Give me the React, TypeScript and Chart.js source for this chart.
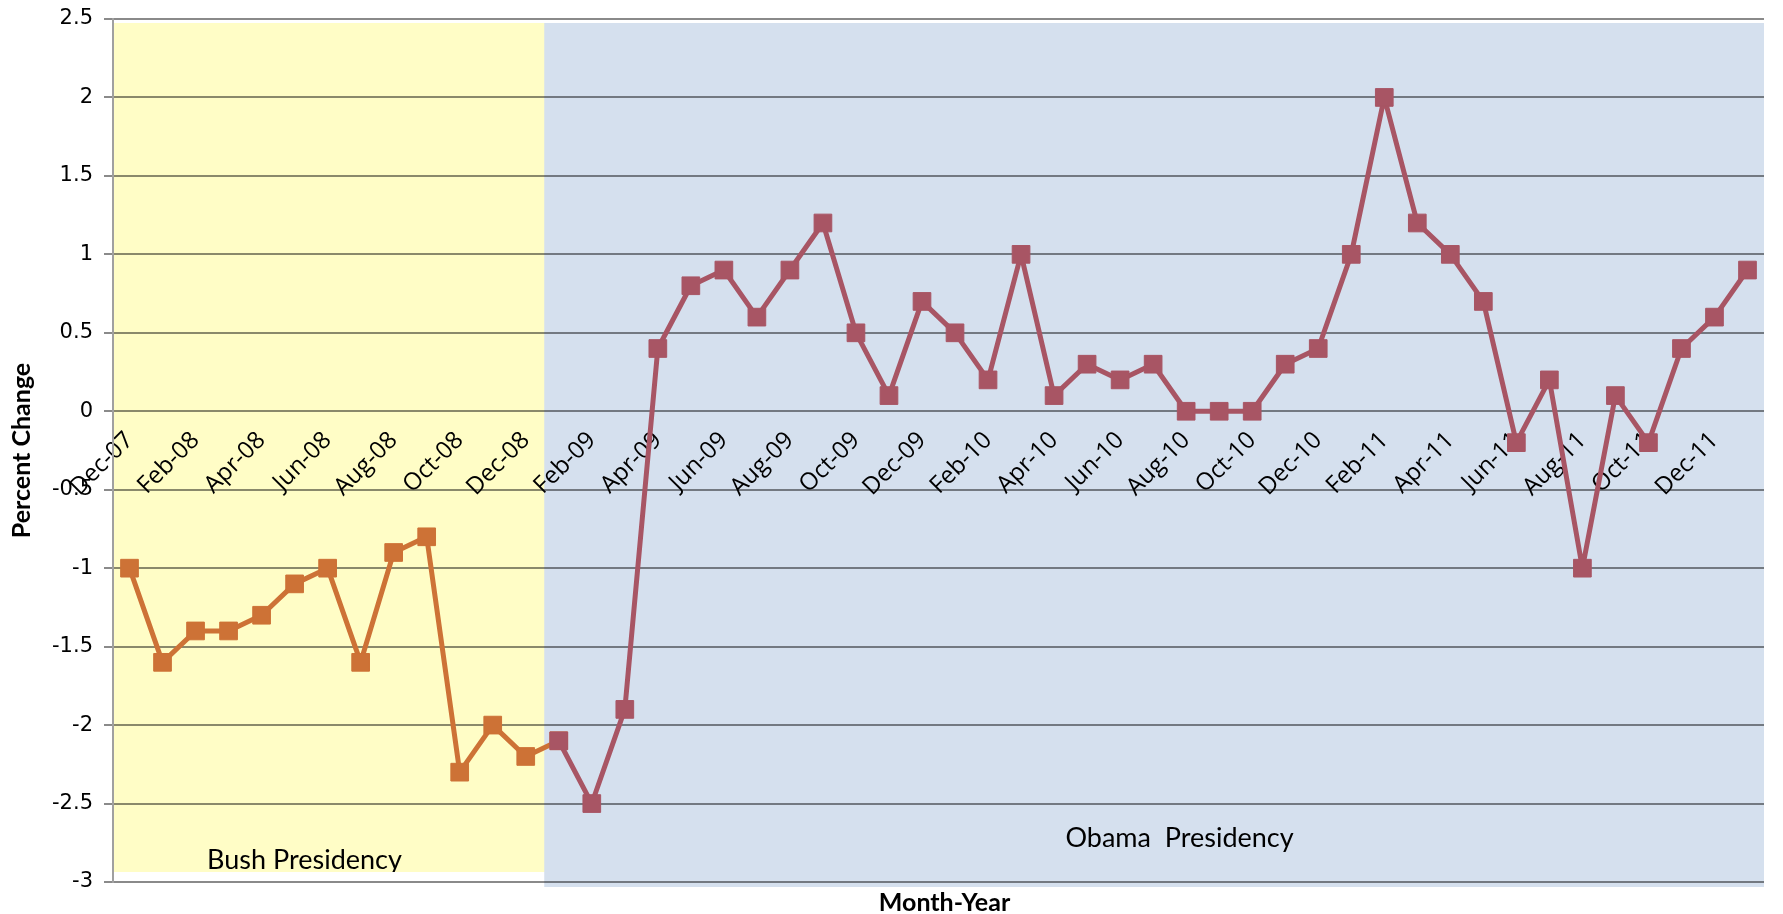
import { useEffect, useRef } from 'react';
import { Chart, registerables } from 'chart.js';

Chart.register(...registerables);

const months = [
  'Dec-07',
  'Jan-08', 'Feb-08', 'Mar-08', 'Apr-08', 'May-08', 'Jun-08', 'Jul-08', 'Aug-08', 'Sep-08', 'Oct-08', 'Nov-08', 'Dec-08',
  'Jan-09', 'Feb-09', 'Mar-09', 'Apr-09', 'May-09', 'Jun-09', 'Jul-09', 'Aug-09', 'Sep-09', 'Oct-09', 'Nov-09', 'Dec-09',
  'Jan-10', 'Feb-10', 'Mar-10', 'Apr-10', 'May-10', 'Jun-10', 'Jul-10', 'Aug-10', 'Sep-10', 'Oct-10', 'Nov-10', 'Dec-10',
  'Jan-11', 'Feb-11', 'Mar-11', 'Apr-11', 'May-11', 'Jun-11', 'Jul-11', 'Aug-11', 'Sep-11', 'Oct-11', 'Nov-11', 'Dec-11',
  'Jan-12',
];

// Dec-07 .. Dec-08
const bushValues = [-1.0, -1.6, -1.4, -1.4, -1.3, -1.1, -1.0, -1.6, -0.9, -0.8, -2.3, -2.0, -2.2];

// Jan-09 .. Jan-12
const obamaValues = [
  -2.1, -2.5, -1.9, 0.4, 0.8, 0.9, 0.6, 0.9, 1.2, 0.5, 0.1, 0.7,
  0.5, 0.2, 1.0, 0.1, 0.3, 0.2, 0.3, 0.0, 0.0, 0.0, 0.3, 0.4,
  1.0, 2.0, 1.2, 1.0, 0.7, -0.2, 0.2, -1.0, 0.1, -0.2, 0.4, 0.6,
  0.9,
];

const yMin = -3;
const yMax = 2.5;
const yStep = 0.5;

const bushColor = '#CD7236';
const obamaColor = '#A85564';

const bushLabel = { text: 'Bush Presidency', at: 5.3, value: -2.92 };
const obamaLabel = { text: 'Obama  Presidency', at: 31.8, value: -2.78 };

const presidencyPlugin = {
  id: 'presidency',
  beforeDatasetsDraw(chart: any) {
    const { ctx, chartArea, scales } = chart;
    const x = scales.x;
    const y = scales.y;
    // shapes end half way between Dec-08 and Jan-09
    const split = x.getPixelForValue(bushValues.length - 0.44);
    const top = y.getPixelForValue(yMax) + 4;
    const yellowBottom = chartArea.bottom - 10;
    const blueBottom = chartArea.bottom + 5;

    ctx.save();
    ctx.globalCompositeOperation = 'multiply';
    ctx.fillStyle = '#FFFDC6';
    ctx.fillRect(chartArea.left + 1, top, split - chartArea.left - 1, yellowBottom - top);
    ctx.fillStyle = '#D5E0EE';
    ctx.fillRect(split, top, chartArea.right - split, blueBottom - top);
    ctx.restore();

    ctx.save();
    ctx.font = '27px Lato';
    ctx.fillStyle = '#000';
    ctx.textAlign = 'center';
    ctx.textBaseline = 'alphabetic';
    ctx.save();
    ctx.beginPath();
    ctx.rect(chartArea.left + 1, top, split - chartArea.left - 1, yellowBottom - top);
    ctx.clip();
    ctx.fillText(bushLabel.text, x.getPixelForValue(bushLabel.at), y.getPixelForValue(bushLabel.value));
    ctx.restore();
    ctx.fillText(obamaLabel.text, x.getPixelForValue(obamaLabel.at), y.getPixelForValue(obamaLabel.value));
    ctx.restore();
  },
  afterDraw(chart: any) {
    const { ctx, chartArea } = chart;
    ctx.save();
    ctx.font = 'bold 25px Lato';
    ctx.fillStyle = '#000';
    ctx.textAlign = 'center';
    ctx.textBaseline = 'middle';
    ctx.fillText('Month-Year', (chartArea.left + chartArea.right) / 2 + 6, chartArea.bottom + 21);
    ctx.restore();
  },
};

export default function App() {
  const canvasRef = useRef<HTMLCanvasElement>(null);
  const chartRef = useRef<Chart | null>(null);

  useEffect(() => {
    if (!canvasRef.current) return;
    if (chartRef.current) chartRef.current.destroy();

    const bushLine = months.map((_, i) =>
      i < bushValues.length ? bushValues[i] : i === bushValues.length ? obamaValues[0] : null
    );
    const obamaLine = months.map((_, i) => (i < bushValues.length ? null : obamaValues[i - bushValues.length]));

    chartRef.current = new Chart(canvasRef.current, {
      type: 'line',
      data: {
        labels: months,
        datasets: [
          {
            label: 'Bush',
            data: bushLine,
            borderColor: bushColor,
            backgroundColor: bushColor,
            borderWidth: 5,
            borderJoinStyle: 'round',
            pointStyle: 'rect',
            pointRadius: 12.5,
            pointBorderWidth: 1,
            pointBorderColor: bushColor,
            pointBackgroundColor: bushColor,
            tension: 0,
            order: 2,
          },
          {
            label: 'Obama',
            data: obamaLine,
            borderColor: obamaColor,
            backgroundColor: obamaColor,
            borderWidth: 5,
            borderJoinStyle: 'round',
            pointStyle: 'rect',
            pointRadius: 12.5,
            pointBorderWidth: 1,
            pointBorderColor: obamaColor,
            pointBackgroundColor: obamaColor,
            tension: 0,
            order: 1,
          },
        ],
      },
      options: {
        animation: false,
        responsive: true,
        maintainAspectRatio: false,
        layout: { padding: { top: 19, right: 5, bottom: 32, left: 0 } },
        plugins: {
          legend: { display: false },
          tooltip: { enabled: false },
        },
        scales: {
          x: {
            type: 'category',
            offset: true,
            position: { y: 0 },
            grid: { display: false, drawTicks: false },
            border: { display: false },
            ticks: {
              autoSkip: false,
              minRotation: 45,
              maxRotation: 45,
              padding: 15,
              color: '#000',
              font: { family: 'Open Sans', size: 24 },
              callback: (_v: any, i: number) => (i % 2 === 0 ? months[i] : ''),
            },
          },
          y: {
            min: yMin,
            max: yMax,
            afterFit: (scale: any) => {
              scale.width = 113;
              scale.paddingTop = 0;
              scale.paddingBottom = 0;
            },
            grid: { color: '#8A8A8A', lineWidth: 2, tickLength: 9 },
            border: { color: '#A0A0A0', width: 2 },
            ticks: {
              stepSize: yStep,
              padding: 11,
              color: '#000',
              font: { family: 'DejaVu Sans', size: 21 },
              callback: (v: any) => String(Math.round(Number(v) * 10) / 10),
            },
            title: {
              display: true,
              text: 'Percent Change',
              color: '#000',
              font: { family: 'Lato', weight: 'bold', size: 25 },
              padding: { top: 7, bottom: 0 },
            },
          },
        },
      },
      plugins: [presidencyPlugin],
    });

    return () => {
      if (chartRef.current) {
        chartRef.current.destroy();
        chartRef.current = null;
      }
    };
  }, []);

  return (
    <div style={{ position: 'absolute', left: 0, top: 0, width: '1783px', height: '914px' }}>
      <canvas ref={canvasRef} />
    </div>
  );
}
